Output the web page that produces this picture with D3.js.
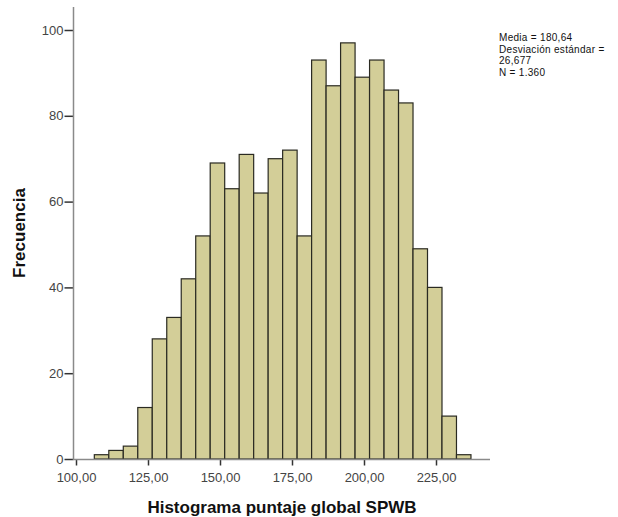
<!DOCTYPE html>
<html>
<head>
<meta charset="utf-8">
<script src="https://cdn.jsdelivr.net/npm/d3@7"></script>
<style>
  body { margin: 0; background: #fff; }
  text { font-family: "Liberation Sans", Arial, sans-serif; }
</style>
</head>
<body>
<svg id="chart" width="618" height="517"></svg>
<script>
// histogram bins (lower edge of first bin, bin width) and counts
const binStart = 106.36;
const binWidth = 5.03;
const counts = [1, 2, 3, 12, 28, 33, 42, 52, 69, 63, 71, 62, 70, 72, 52,
                93, 87, 97, 89, 93, 86, 83, 49, 40, 10, 1];
const xTicks = [100, 125, 150, 175, 200, 225];
const yTicks = [0, 20, 40, 60, 80, 100];
const statLines = ["Media = 180,64", "Desviación estándar =", "26,677", "N = 1.360"];

const bins = counts.map((c, i) => ({
  x0: binStart + i * binWidth,
  x1: binStart + (i + 1) * binWidth,
  n: c
}));

const svg = d3.select("#chart");
const x = d3.scaleLinear().domain([100, 225]).range([76, 436]);
const y = d3.scaleLinear().domain([0, 100]).range([459, 30]);
const fmt = d => d.toFixed(2).replace(".", ",");

// bars
svg.append("g")
  .selectAll("rect")
  .data(bins)
  .enter()
  .append("rect")
  .attr("x", d => x(d.x0))
  .attr("y", d => y(d.n))
  .attr("width", d => x(d.x1) - x(d.x0))
  .attr("height", d => y(0) - y(d.n))
  .attr("fill", "#d3ce98")
  .attr("stroke", "#2a2a22")
  .attr("stroke-width", 1.2);

// x axis
const xAxis = svg.append("g")
  .attr("transform", "translate(0,459.5)")
  .call(d3.axisBottom(x).tickValues(xTicks).tickFormat(fmt).tickSize(6).tickSizeOuter(0));
xAxis.select(".domain").remove();
xAxis.append("line")
  .attr("x1", 73.5).attr("x2", 490)
  .attr("stroke", "#8a8a8a").attr("stroke-width", 1.5);
xAxis.selectAll(".tick line").attr("stroke", "#333").attr("stroke-width", 1.5);
xAxis.selectAll(".tick text")
  .attr("fill", "#444").attr("font-size", 13).attr("dy", "1.0em")
  .style("font-family", "'Liberation Sans', Arial, sans-serif");

// y axis
const yAxis = svg.append("g")
  .attr("transform", "translate(73.5,0)")
  .call(d3.axisLeft(y).tickValues(yTicks).tickSize(9).tickSizeOuter(0));
yAxis.select(".domain").remove();
yAxis.append("line")
  .attr("y1", 7).attr("y2", 460)
  .attr("stroke", "#8a8a8a").attr("stroke-width", 1.5);
yAxis.selectAll(".tick line").attr("stroke", "#333").attr("stroke-width", 1.5);
yAxis.selectAll(".tick text")
  .attr("fill", "#444").attr("font-size", 13).attr("x", -10)
  .style("font-family", "'Liberation Sans', Arial, sans-serif");

// axis titles
svg.append("text")
  .attr("x", 282).attr("y", 513)
  .attr("text-anchor", "middle")
  .attr("font-size", 17).attr("font-weight", "bold")
  .attr("fill", "#111")
  .text("Histograma puntaje global SPWB");

svg.append("text")
  .attr("transform", "translate(25,233) rotate(-90)")
  .attr("text-anchor", "middle")
  .attr("font-size", 17).attr("font-weight", "bold")
  .attr("fill", "#111")
  .text("Frecuencia");

// summary statistics
svg.append("g")
  .selectAll("text")
  .data(statLines)
  .enter()
  .append("text")
  .attr("x", 499)
  .attr("y", (d, i) => 41 + i * 11.5)
  .attr("font-size", 10)
  .attr("letter-spacing", 0.3)
  .attr("fill", "#111")
  .text(d => d);
</script>
</body>
</html>
